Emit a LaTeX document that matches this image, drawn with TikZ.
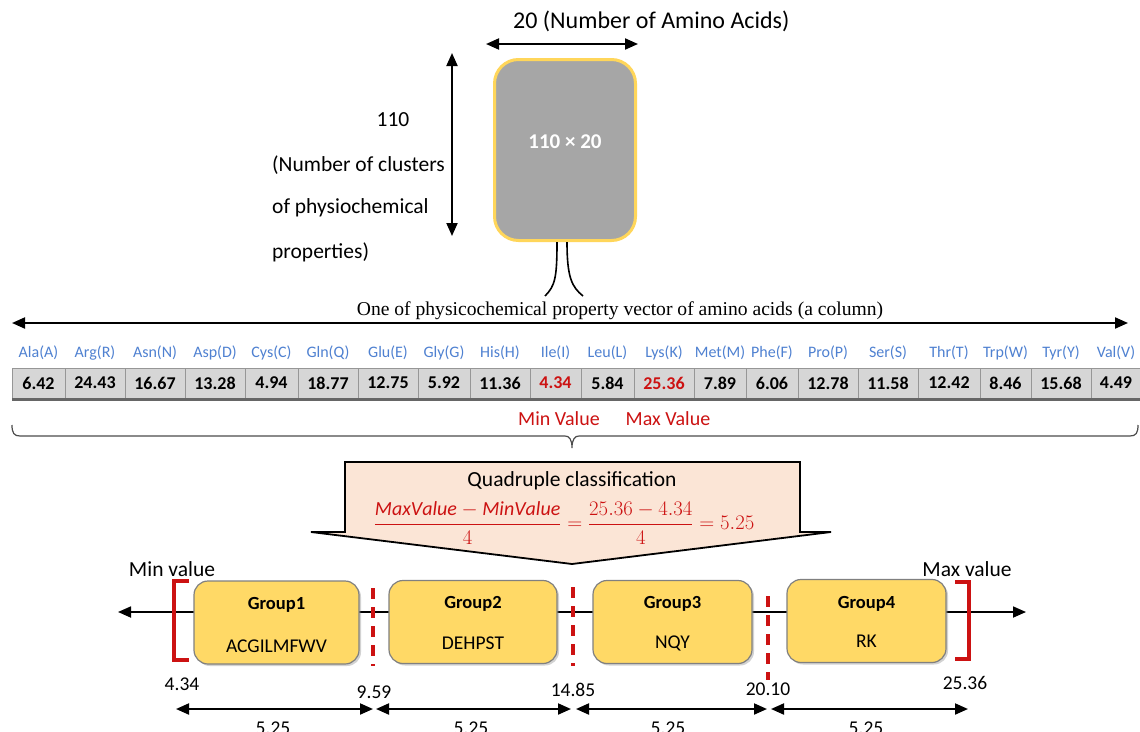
\documentclass[tikz,border=0pt]{standalone}
\usepackage{fontspec}
\setmainfont{Carlito}
\newfontfamily\timesfont{Liberation Serif}
\usetikzlibrary{arrows.meta,shadows}

\definecolor{aablue}{RGB}{79,129,209}
\definecolor{hired}{RGB}{204,18,18}
\definecolor{gold}{RGB}{255,217,102}
\definecolor{peach}{RGB}{251,229,214}
\definecolor{matgrey}{RGB}{166,166,166}
\definecolor{matedge}{RGB}{255,214,90}
\definecolor{cellgrey}{RGB}{214,214,214}
\definecolor{celledge}{RGB}{150,150,150}

\newcommand{\fs}[1]{\fontsize{#1}{#1}\selectfont}

\tikzset{
  tip/.style={>={Triangle[length=13pt,width=11pt]}},
  dimline/.style={tip,<->,line width=2pt},
  txt/.style={inner sep=0pt,font=\fs{24}},
  aalabel/.style={inner sep=0pt,text=aablue,font=\fs{16}},
  cell/.style={draw=celledge,fill=cellgrey,line width=1pt,inner sep=0pt,
               minimum height=30pt,font=\fs{18}\bfseries},
  grpbox/.style={draw=gray,fill=gold,line width=1.2pt,rounded corners=14pt,
                 minimum height=83pt,
                 drop shadow={opacity=0.35,shadow xshift=2pt,shadow yshift=-2pt}},
  grpname/.style={inner sep=0pt,font=\fs{18.5}\bfseries},
  grpset/.style={inner sep=0pt,font=\fs{19.5}},
  redbracket/.style={draw=hired,line width=3.2pt},
  reddash/.style={draw=hired,line width=3.4pt,dash pattern=on 11pt off 8pt},
  numlabel/.style={inner sep=0pt,font=\fs{19.5}},
}

\begin{document}
\begin{tikzpicture}[x=1pt,y=-1pt]
\useasboundingbox[fill=white] (0,0) rectangle (1140,731);

% ---------- the 110 x 20 matrix ----------
\node[draw=matedge,fill=matgrey,line width=3pt,rounded corners=24pt,
      minimum width=141pt,minimum height=181pt] (mat) at (565,150) {};
\node[text=white,font=\fs{21}\bfseries,inner sep=0pt] (mattxt) at (565,142) {110 × 20};

\coordinate (wL) at (486,44);
\coordinate (wR) at (638,44);
\draw[dimline] (wL) -- (wR);
\node[txt,anchor=west] (wtxt) at (513,21) {20 (Number of Amino Acids)};

\coordinate (hT) at (452,53);
\coordinate (hB) at (452,236);
\draw[dimline] (hT) -- (hB);
\node[txt,font=\fs{21.5}] (htxt0) at (393,120) {110};
\node[txt,font=\fs{21.5},anchor=west] (htxt1) at (272,165) {(Number of clusters};
\node[txt,font=\fs{21.5},anchor=west] (htxt2) at (272,208) {of physiochemical};
\node[txt,font=\fs{21.5},anchor=west] (htxt3) at (272,252) {properties)};

% two strands leading from the matrix down to one column
\coordinate (sL0) at (557,242);
\coordinate (sL1) at (545,296);
\coordinate (sR0) at (567,242);
\coordinate (sR1) at (583,296);
\draw[line width=1.6pt] (sL0) .. controls (557,278) and (555,286) .. (sL1);
\draw[line width=1.6pt] (sR0) .. controls (567,278) and (572,287) .. (sR1);

\node[inner sep=0pt,font=\timesfont\fs{19.6}] (coltxt) at (620,311)
  {One of physicochemical property vector of amino acids (a column)};
\coordinate (vL) at (12,323);
\coordinate (vR) at (1128,323);
\draw[dimline] (vL) -- (vR);

% ---------- one column as a table ----------
\foreach \l/\r/\aa/\v/\c [count=\i] in {
   12/65/Ala(A)/6.42/black, 65/125/Arg(R)/24.43/black, 125/185/Asn(N)/16.67/black,
   185/245/Asp(D)/13.28/black, 245/298/Cys(C)/4.94/black, 298/358/Gln(Q)/18.77/black,
   358/418/Glu(E)/12.75/black, 418/470/Gly(G)/5.92/black, 470/530/His(H)/11.36/black,
   530/581/Ile(I)/4.34/hired, 581/634/Leu(L)/5.84/black, 634/694/Lys(K)/25.36/hired,
   694/746/Met(M)/7.89/black, 746/798/Phe(F)/6.06/black, 798/858/Pro(P)/12.78/black,
   858/918/Ser(S)/11.58/black, 918/980/Thr(T)/12.42/black, 980/1031/Trp(W)/8.46/black,
   1031/1091/Tyr(Y)/15.68/black, 1091/1141/Val(V)/4.49/black}{
  \node[cell,minimum width={(\r-\l)*1pt},text=\c] (cell\i) at ({(\l+\r)/2},383) {\v};
  \node[aalabel] (aa\i) at ({(\l+\r)/2},353) {\aa};
}
\draw[line width=3pt,gray!80!black] (12,399.5) -- (1140,399.5);

\node[inner sep=0pt,text=hired,font=\fs{20}] (minv) at (559,419) {Min Value};
\node[inner sep=0pt,text=hired,font=\fs{20}] (maxv) at (668,419) {Max Value};

% brace under the table
\coordinate (brL) at (12,425);
\coordinate (brR) at (1138,425);
\coordinate (brT) at (572,448);
\draw[line width=1.2pt,gray!60!black]
  (brL) .. controls (12,433) and (14,436) .. (20,436) -- (565,436)
  .. controls (569,436) and (572,439) .. (brT)
  .. controls (572,439) and (575,436) .. (579,436) -- (1130,436)
  .. controls (1136,436) and (1138,433) .. (brR);

% ---------- classification callout ----------
\draw[line width=1.8pt,fill=peach]
  (345,462) -- (800,462) -- (800,532) -- (831,532) -- (572,564)
  -- (311,532) -- (345,532) -- cycle;
\node[txt,font=\fs{21.5}] (qtitle) at (572,481) {Quadruple classification};
\node[inner sep=0pt,text=hired,font=\fs{20}] (qformula) at (564,523)
  {$\displaystyle\frac{\mathit{MaxValue}-\mathit{MinValue}}{4}
    =\frac{25.36-4.34}{4}=5.25$};

% ---------- value axis and four groups ----------
\coordinate (axL) at (118,612);
\coordinate (axR) at (1026,612);
\draw[tip,<->,line width=1.8pt] (axL) -- (axR);

\node[grpbox,minimum width=165pt] (g1) at (276.5,622.5) {};
\node[grpbox,minimum width=168pt] (g2) at (473,622) {};
\node[grpbox,minimum width=159pt] (g3) at (672.5,622) {};
\node[grpbox,minimum width=159pt] (g4) at (866.5,621) {};

\node[grpname] (g1n) at (276.5,605) {Group1};
\node[grpset]  (g1s) at (276.5,646) {ACGILMFWV};
\node[grpname] (g2n) at (473,604) {Group2};
\node[grpset]  (g2s) at (473,643) {DEHPST};
\node[grpname] (g3n) at (672.5,604) {Group3};
\node[grpset]  (g3s) at (672.5,643) {NQY};
\node[grpname] (g4n) at (866.5,604) {Group4};
\node[grpset]  (g4s) at (866.5,641) {RK};

\draw[redbracket] (189,581) -- (174,581) -- (174,660) -- (189,660);
\draw[redbracket] (955,582) -- (969,582) -- (969,659) -- (955,659);
\draw[reddash] (373,588) -- (373,666);
\draw[reddash] (573,587) -- (573,666);
\draw[reddash] (768,596) -- (768,680);

\node[inner sep=0pt,font=\fs{21.5}] (minlab) at (172,569) {Min value};
\node[inner sep=0pt,font=\fs{21.5}] (maxlab) at (967,569) {Max value};

\node[numlabel] (n0) at (182,684) {4.34};
\node[numlabel] (n1) at (374,692) {9.59};
\node[numlabel] (n2) at (573,690) {14.85};
\node[numlabel] (n3) at (768,689) {20.10};
\node[numlabel] (n4) at (965,683) {25.36};

\coordinate (d0) at (176,709);
\coordinate (d1a) at (373,709);
\coordinate (d1b) at (376,709);
\coordinate (d2a) at (571,709);
\coordinate (d2b) at (576,709);
\coordinate (d3a) at (767,709);
\coordinate (d3b) at (771,709);
\coordinate (d4) at (968,709);
\draw[dimline] (d0) -- (d1a);
\draw[dimline] (d1b) -- (d2a);
\draw[dimline] (d2b) -- (d3a);
\draw[dimline] (d3b) -- (d4);

\node[numlabel] (w1) at (273,728) {5.25};
\node[numlabel] (w2) at (471,728) {5.25};
\node[numlabel] (w3) at (668,728) {5.25};
\node[numlabel] (w4) at (866,728) {5.25};
\end{tikzpicture}
\end{document}
